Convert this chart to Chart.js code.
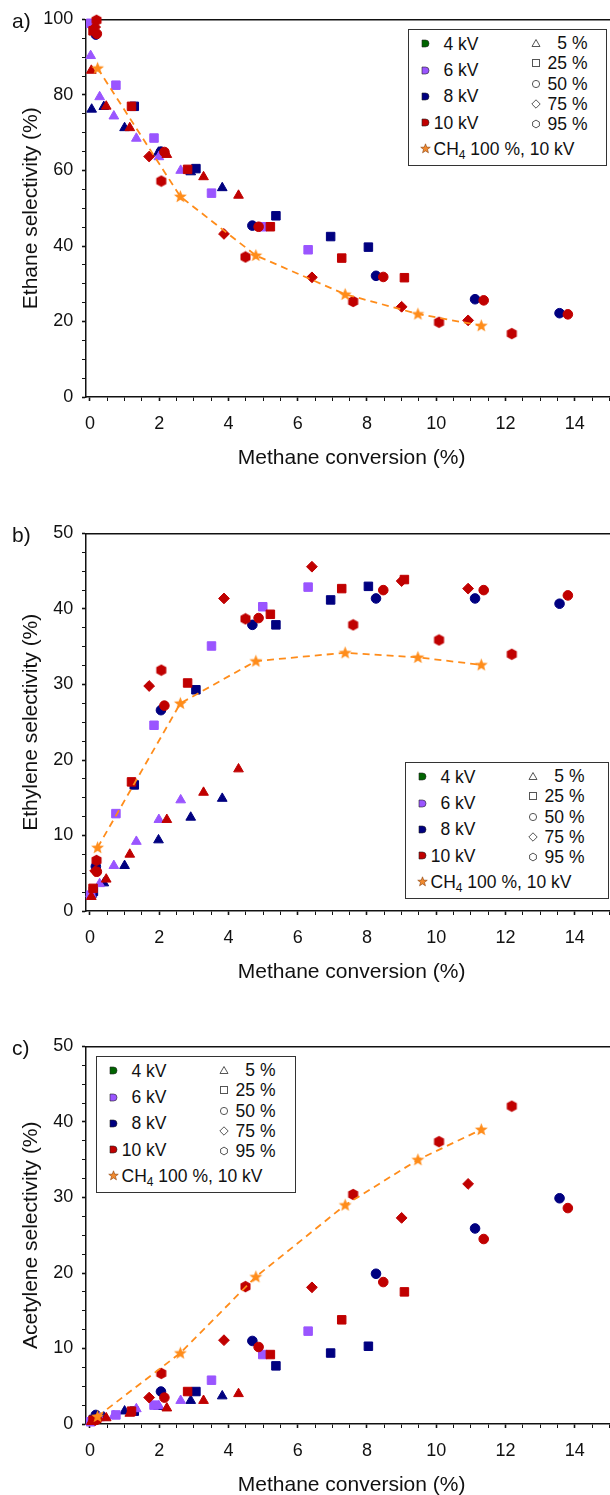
<!DOCTYPE html>
<html>
<head>
<meta charset="utf-8">
<script src="https://cdn.jsdelivr.net/npm/chart.js@4.4.1/dist/chart.umd.min.js"></script>
<style>
html,body{margin:0;padding:0;background:#fff;overflow:hidden;width:610px;height:1495px;}
#wrap{position:relative;width:610px;height:1495px;overflow:hidden;font-family:"Liberation Sans",Arial,Helvetica,sans-serif;color:#111;}
.panel{position:absolute;left:0;width:625px;}
.plabel{position:absolute;left:12px;font-size:21px;line-height:21px;}
.legend{position:absolute;border:1.5px solid #333;background:#fff;box-sizing:border-box;height:137px;font-size:17.5px;}
.li{position:absolute;white-space:nowrap;line-height:20px;height:20px;}
.mk{position:absolute;display:block;}
sub{font-size:12px;vertical-align:-4px;line-height:0;}
</style>
</head>
<body>
<div id="wrap"></div>
<script>
// ================= DATA =================
// Methane conversion (%) for each experimental series (shared by the three panels)
const xTri10 = [0.04, 0.47, 1.15, 2.22, 3.28, 4.29];
const xSq10  = [0.09, 1.20, 2.82, 5.21, 7.27, 9.08];
const xCir10 = [0.20, 2.15, 4.87, 8.47, 11.37, 13.80];
const xDia10 = [0.15, 1.71, 3.87, 6.41, 9.00, 10.92];
const xHex10 = [0.19, 2.06, 4.49, 7.60, 10.08, 12.18];
const xTri8  = [0.05, 0.40, 1.00, 1.98, 2.91, 3.82];
const xSq8   = [0.10, 1.28, 3.06, 5.37, 6.95, 8.04];
const xCir8  = [0.17, 2.05, 4.69, 8.26, 11.12, 13.56];
const xTri6  = [0.02, 0.28, 0.69, 1.34, 1.99, 2.62];
const xSq6   = [0.02, 0.75, 1.85, 3.51, 4.99, 6.30];
const xCH4   = [0.22, 2.61, 4.79, 7.37, 9.47, 11.30];

// a) Ethane selectivity (%)
const ethaneTri10 = [86.5, 77.0, 71.3, 64.2, 58.3, 53.4];
const ethaneSq10  = [97.0, 77.0, 60.3, 45.1, 36.8, 31.6];
const ethaneCir10 = [96.2, 64.9, 45.1, 31.8, 25.6, 21.9];
const ethaneDia10 = [98.0, 63.7, 43.2, 31.7, 23.9, 20.3];
const ethaneHex10 = [99.8, 57.2, 37.1, 25.3, 19.8, 16.8];
const ethaneTri8  = [76.2, 76.9, 71.3, 64.8, 59.6, 55.4];
const ethaneSq8   = [98.5, 77.0, 60.5, 48.0, 42.5, 39.7];
const ethaneCir8  = [96.0, 65.0, 45.4, 32.1, 25.9, 22.2];
const ethaneTri6  = [90.4, 79.5, 74.4, 68.5, 63.6, 60.0];
const ethaneSq6   = [99.0, 82.6, 68.6, 54.0, 45.1, 39.0];
const ethaneCH4   = [87.1, 53.1, 37.5, 27.2, 22.0, 18.9];

// b) Ethylene selectivity (%)
const ethyleneTri10 = [1.9, 4.2, 7.5, 12.1, 15.7, 18.8];
const ethyleneSq10  = [3.0, 17.1, 30.2, 39.3, 42.7, 43.9];
const ethyleneCir10 = [5.2, 27.2, 38.8, 42.5, 42.5, 41.8];
const ethyleneDia10 = [5.3, 29.8, 41.4, 45.6, 43.7, 42.7];
const ethyleneHex10 = [6.7, 31.9, 38.7, 37.9, 35.9, 34.0];
const ethyleneTri8  = [2.2, 3.7, 6.0, 9.4, 12.4, 14.9];
const ethyleneSq8   = [2.6, 16.7, 29.3, 37.9, 41.2, 43.0];
const ethyleneCir8  = [5.9, 26.6, 37.9, 41.4, 41.4, 40.7];
const ethyleneTri6  = [2.3, 3.6, 6.0, 9.2, 12.1, 14.7];
const ethyleneSq6   = [2.1, 12.9, 24.6, 35.1, 40.3, 42.9];
const ethyleneCH4   = [8.4, 27.5, 33.1, 34.2, 33.6, 32.6];

// c) Acetylene selectivity (%)
const acetyleneTri10 = [0.3, 0.8, 1.4, 2.1, 3.1, 4.0];
const acetyleneSq10  = [0.5, 1.7, 4.3, 9.2, 13.8, 17.5];
const acetyleneCir10 = [0.6, 3.5, 10.2, 18.8, 24.5, 28.6];
const acetyleneDia10 = [0.5, 3.5, 11.1, 18.1, 27.3, 31.8];
const acetyleneHex10 = [0.6, 6.7, 18.2, 30.4, 37.4, 42.1];
const acetyleneTri8  = [0.4, 0.9, 1.7, 2.3, 3.1, 3.7];
const acetyleneSq8   = [0.6, 1.7, 4.3, 7.7, 9.4, 10.3];
const acetyleneCir8  = [1.2, 4.3, 11.0, 19.9, 25.9, 29.9];
const acetyleneTri6  = [0.3, 0.8, 1.1, 2.0, 2.4, 3.1];
const acetyleneSq6   = [0.3, 1.2, 2.5, 5.8, 9.2, 12.3];
const acetyleneCH4   = [1.0, 9.4, 19.5, 29.0, 35.0, 39.0];

// Legend / tick labels
const voltLabels = ['4 kV', '6 kV', '8 kV', '10 kV'];
const concLabels = ['5 %', '25 %', '50 %', '75 %', '95 %'];
const ch4Label = 'CH<sub>4</sub> 100 %, 10 kV';
const panelLetters = ['a)', 'b)', 'c)'];
const yTitles = ['Ethane selectivity (%)', 'Ethylene selectivity (%)', 'Acetylene selectivity (%)'];
const xTitle = 'Methane conversion (%)';
const yMaxes = [100, 50, 50];
const yMinorSteps = [5, 2.5, 2.5];
const yMajorSteps = [20, 10, 10];
const xMajorStep = 2;
const xMinorStep = 0.5;

// ================= STYLE / LAYOUT =================
const FONT = '"Liberation Sans", Arial, Helvetica, sans-serif';
const VOLT_COLORS = ['#006400', '#9A55FF', '#000080', '#C00000'];
const CONC_SHAPES = ['triangle', 'rect', 'circle', 'rectRot', 'hexagon'];
const ORANGE = '#FF8C1A';
const AXIS_COLOR = '#111';
const CANVAS_W = 625, AXIS_W = 86, PAD_TOP = 17, PLOT_H = 380, XAXIS_H = 75;
const CANVAS_H = PAD_TOP + PLOT_H + XAXIS_H;
const X_MIN = -0.114, PX_PER_UNIT = 35.14;
const X_MAX = X_MIN + (CANVAS_W - AXIS_W) / PX_PER_UNIT;
const panelTops = [0, 514, 1027];
const legendBoxes = [{left: 408, top: 29, w: 199}, {left: 405, top: 762, w: 204}, {left: 96, top: 1056, w: 200}];

// series definitions: [xs, ys per panel, voltage index, conc index]
const SERIES = [
  [xHex10, [ethaneHex10, ethyleneHex10, acetyleneHex10], 3, 4],
  [xDia10, [ethaneDia10, ethyleneDia10, acetyleneDia10], 3, 3],
  [xCir10, [ethaneCir10, ethyleneCir10, acetyleneCir10], 3, 2],
  [xSq10,  [ethaneSq10,  ethyleneSq10,  acetyleneSq10 ], 3, 1],
  [xTri10, [ethaneTri10, ethyleneTri10, acetyleneTri10], 3, 0],
  [xSq6,   [ethaneSq6,   ethyleneSq6,   acetyleneSq6  ], 1, 1],
  [xTri6,  [ethaneTri6,  ethyleneTri6,  acetyleneTri6 ], 1, 0],
  [xCir8,  [ethaneCir8,  ethyleneCir8,  acetyleneCir8 ], 2, 2],
  [xSq8,   [ethaneSq8,   ethyleneSq8,   acetyleneSq8  ], 2, 1],
  [xTri8,  [ethaneTri8,  ethyleneTri8,  acetyleneTri8 ], 2, 0],
];
const CH4_Y = [ethaneCH4, ethyleneCH4, acetyleneCH4];

// ================= MARKER IMAGES =================
function hexImg(color) {
  const c = document.createElement('canvas');
  c.width = 13; c.height = 13;
  const g = c.getContext('2d');
  g.beginPath();
  for (let i = 0; i < 6; i++) {
    const a = -Math.PI / 2 + i * Math.PI / 3;
    const px = 6.5 + 5.8 * Math.cos(a), py = 6.5 + 5.8 * Math.sin(a);
    i ? g.lineTo(px, py) : g.moveTo(px, py);
  }
  g.closePath(); g.fillStyle = color; g.fill();
  return c;
}
function starImg(color) {
  const c = document.createElement('canvas');
  c.width = 15; c.height = 15;
  const g = c.getContext('2d');
  g.beginPath();
  for (let i = 0; i < 10; i++) {
    const r = i % 2 ? 2.9 : 6.8;
    const a = -Math.PI / 2 + i * Math.PI / 5;
    const px = 7.5 + r * Math.cos(a), py = 7.8 + r * Math.sin(a);
    i ? g.lineTo(px, py) : g.moveTo(px, py);
  }
  g.closePath(); g.fillStyle = color; g.fill();
  return c;
}
const RADII = {triangle: 5.6, rect: 6.0, circle: 4.8, rectRot: 5.4, hexagon: 5.5};
const hexCache = {};

function buildDatasets(p) {
  const list = [{
    label: 'CH4 100 %, 10 kV',
    data: xCH4.map((x, i) => ({x, y: CH4_Y[p][i]})),
    showLine: true, borderColor: ORANGE, borderWidth: 1.8, borderDash: [7, 5],
    pointStyle: starImg(ORANGE), pointRadius: 6, backgroundColor: ORANGE, clip: false
  }];
  SERIES.forEach(([xs, ysAll, v, c]) => {
    const color = VOLT_COLORS[v];
    const shape = CONC_SHAPES[c];
    let style = shape;
    if (shape === 'hexagon') { style = hexCache[color] || (hexCache[color] = hexImg(color)); }
    list.push({
      label: voltLabels[v] + ' ' + concLabels[c],
      data: xs.map((x, i) => ({x, y: ysAll[p][i]})),
      showLine: false, pointStyle: style, pointRadius: RADII[shape],
      pointBackgroundColor: color, pointBorderColor: color, pointBorderWidth: 1,
      backgroundColor: color, borderColor: color, clip: false
    });
  });
  return list;
}

function isMultiple(v, step) { return Math.abs(v / step - Math.round(v / step)) < 1e-6; }

// ================= BUILD =================
const wrap = document.getElementById('wrap');
function svg(w, h, inner) {
  return `<svg class="mk" width="${w}" height="${h}" viewBox="0 0 ${w} ${h}" xmlns="http://www.w3.org/2000/svg">${inner}</svg>`;
}
function concSvg(shape) {
  const st = 'fill="#fff" stroke="#555" stroke-width="1"';
  switch (shape) {
    case 'triangle': return svg(10, 10, `<polygon points="5,1.5 9,8.5 1,8.5" ${st}/>`);
    case 'rect': return svg(10, 10, `<rect x="1.5" y="1.5" width="7" height="7" ${st}/>`);
    case 'circle': return svg(10, 10, `<circle cx="5" cy="5" r="3.6" ${st}/>`);
    case 'rectRot': return svg(10, 10, `<polygon points="5,0.8 9.2,5 5,9.2 0.8,5" ${st}/>`);
    default: {
      let pts = [];
      for (let i = 0; i < 6; i++) { const a = -Math.PI / 2 + i * Math.PI / 3; pts.push((5 + 3.9 * Math.cos(a)).toFixed(2) + ',' + (5 + 3.9 * Math.sin(a)).toFixed(2)); }
      return svg(10, 10, `<polygon points="${pts.join(' ')}" ${st}/>`);
    }
  }
}
function voltSvg(color) {
  return svg(9, 9, `<path d="M1,1 H4.5 A3.5,3.5 0 0 1 4.5,8 H1 Z" fill="${color}" stroke="#222" stroke-width="0.6"/>`);
}
function starSvg() {
  let pts = [];
  for (let i = 0; i < 10; i++) { const r = i % 2 ? 2.1 : 5; const a = -Math.PI / 2 + i * Math.PI / 5; pts.push((5.5 + r * Math.cos(a)).toFixed(2) + ',' + (5.8 + r * Math.sin(a)).toFixed(2)); }
  return svg(11, 11, `<polygon points="${pts.join(' ')}" fill="#F08A30" stroke="#8B4513" stroke-width="0.6"/>`);
}

const LEFT_ROWS = [15, 41.5, 67.5, 94];
const RIGHT_ROWS = [14, 34.5, 55, 75.5, 95.5];
const CH4_ROW = 120;

function buildLegend(box) {
  const d = document.createElement('div');
  d.className = 'legend';
  d.style.left = box.left + 'px'; d.style.top = box.top + 'px'; d.style.width = box.w + 'px';
  let html = '';
  voltLabels.forEach((t, i) => {
    const dy = LEFT_ROWS[i] - 1.5;
    html += `<div class="li" style="left:${17.5 - 4.5 - 1.5}px;top:${dy - 4.5}px;height:9px">${voltSvg(VOLT_COLORS[i])}</div>`;
    html += `<div class="li" style="right:${box.w - 70 - 1.5}px;top:${dy - 10}px;text-align:right">${t}</div>`;
  });
  concLabels.forEach((t, i) => {
    const dy = RIGHT_ROWS[i] - 1.5;
    html += `<div class="li" style="left:${128 - 5 - 1.5}px;top:${dy - 5}px;height:10px">${concSvg(CONC_SHAPES[i])}</div>`;
    html += `<div class="li" style="right:${box.w - 179 - 1.5}px;top:${dy - 10}px;text-align:right">${t}</div>`;
  });
  const cy = CH4_ROW - 1.5;
  html += `<div class="li" style="left:${17.5 - 5.5 - 1.5}px;top:${cy - 5.5}px;height:11px">${starSvg()}</div>`;
  html += `<div class="li" style="left:${26 - 1.5}px;top:${cy - 10}px">${ch4Label}</div>`;
  d.innerHTML = html;
  return d;
}

for (let p = 0; p < 3; p++) {
  const div = document.createElement('div');
  div.className = 'panel';
  div.style.top = panelTops[p] + 'px';
  div.style.height = CANVAS_H + 'px';
  const cv = document.createElement('canvas');
  cv.width = CANVAS_W; cv.height = CANVAS_H;
  cv.style.width = CANVAS_W + 'px'; cv.style.height = CANVAS_H + 'px';
  div.appendChild(cv);
  wrap.appendChild(div);

  const lab = document.createElement('div');
  lab.className = 'plabel';
  lab.style.top = (panelTops[p] + PAD_TOP - 7) + 'px';
  lab.textContent = panelLetters[p];
  wrap.appendChild(lab);

  wrap.appendChild(buildLegend(legendBoxes[p]));

  const yMajor = yMajorSteps[p];
  new Chart(cv, {
    type: 'scatter',
    data: {datasets: buildDatasets(p)},
    options: {
      responsive: false, animation: false, devicePixelRatio: 1,
      layout: {padding: {top: PAD_TOP, left: 0, right: 0, bottom: 0}},
      plugins: {legend: {display: false}, tooltip: {enabled: false}},
      scales: {
        x: {
          type: 'linear', position: 'bottom', min: X_MIN, max: X_MAX,
          afterFit: s => { s.height = XAXIS_H; },
          border: {display: true, color: AXIS_COLOR, width: 1.5},
          grid: {display: true, drawOnChartArea: false, drawTicks: true, tickLength: 4, color: AXIS_COLOR,
                 tickWidth: ctx => (ctx.tick && isMultiple(ctx.tick.value, xMajorStep)) ? 1.6 : 1},
          ticks: {stepSize: xMinorStep, autoSkip: false, includeBounds: false, maxRotation: 0, padding: 12.5,
                  color: AXIS_COLOR, font: {family: FONT, size: 18},
                  callback: v => isMultiple(v, xMajorStep) ? String(Math.round(v)) : ''},
          title: {display: true, text: xTitle, color: AXIS_COLOR, font: {family: FONT, size: 21}, padding: {top: 0, bottom: 1.4}}
        },
        x2: {
          type: 'linear', position: 'top', min: X_MIN, max: X_MAX,
          afterFit: s => { s.height = 0; },
          border: {display: true, color: AXIS_COLOR, width: 1.5},
          grid: {display: false}, ticks: {display: false}
        },
        y: {
          type: 'linear', position: 'left', min: 0, max: yMaxes[p],
          afterFit: s => { s.width = AXIS_W; },
          border: {display: true, color: AXIS_COLOR, width: 1.5},
          grid: {display: true, drawOnChartArea: false, drawTicks: true, tickLength: 4, color: AXIS_COLOR,
                 tickWidth: ctx => (ctx.tick && isMultiple(ctx.tick.value, yMajor)) ? 1.6 : 1},
          ticks: {stepSize: yMinorSteps[p], autoSkip: false, includeBounds: false, padding: 8.7,
                  color: AXIS_COLOR, font: {family: FONT, size: 18},
                  callback: v => isMultiple(v, yMajor) ? String(Math.round(v)) : ''},
          title: {display: true, text: yTitles[p], color: AXIS_COLOR, font: {family: FONT, size: 21}, padding: {top: 18.4, bottom: 0}}
        }
      }
    }
  });
}
</script>
</body>
</html>
